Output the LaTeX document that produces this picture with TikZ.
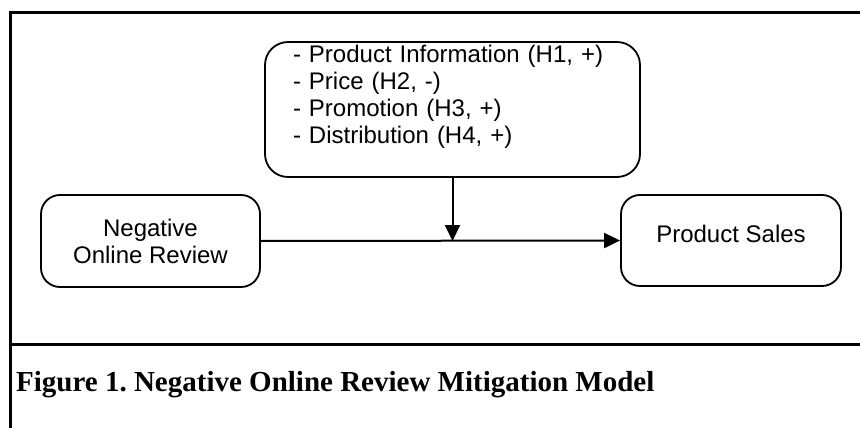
\documentclass[tikz,border=0pt]{standalone}
\usepackage{fontspec}
\setmainfont{Liberation Serif}
\setsansfont{Liberation Sans}
\usetikzlibrary{positioning, arrows.meta}

\begin{document}
\begin{tikzpicture}[x=1pt, y=-1pt,
  every node/.style={inner sep=0pt},
  box/.style={draw, line width=1.8pt, rounded corners=19pt, font=\sffamily\fontsize{24}{27}\selectfont},
  arrow/.style={-{Triangle[length=16pt, width=15pt]}, line width=2pt},
  frame/.style={line width=3pt}]
\useasboundingbox (0,0) rectangle (860,428);
% outer frame
\draw[frame] (860,13) -- (10,13) -- (10,428);
\draw[frame] (10,344) -- (860,344);
% model
\node[box, minimum width=375pt, minimum height=135pt, rounded corners=23pt,
      align=left, text width=319pt, text height=17pt, text depth=110pt]
  (mod) at (452.5,109.5)
  {- Product Information (H1, +)\\- Price (H2, -)\\- Promotion (H3, +)\\- Distribution (H4, +)};
\node[box, minimum width=219pt, minimum height=92pt, align=center] (neg) at (150.5,241)
  {Negative\\Online Review};
\node[box, minimum width=220pt, minimum height=91pt, text depth=14pt] (sales) at (731,240.5)
  {Product Sales};
\draw[arrow] (neg.east) -- (sales.west);
\draw[arrow] (mod.south) -- (mod.south |- neg.east);
% caption
\node[anchor=base west, font=\bfseries\fontsize{29}{31}\selectfont] (cap) at (16,391)
  {\frenchspacing Figure 1. Negative Online Review Mitigation Model};
\end{tikzpicture}
\end{document}
